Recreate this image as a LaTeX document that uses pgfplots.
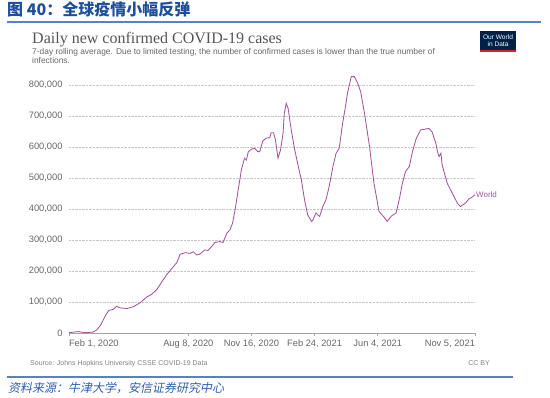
\documentclass[border=0pt]{standalone}
\usepackage{fontspec}
\setmainfont{Liberation Sans}
\newfontfamily\serifT{Liberation Serif}
\newfontfamily\cjk{Noto Sans CJK SC}
\newfontfamily\cjkit[FakeSlant=0.2]{Noto Sans CJK SC}
\usepackage{pgfplots}
\pgfplotsset{compat=1.18}
\definecolor{owid}{HTML}{A2559C}
\definecolor{txtgray}{HTML}{666666}
\definecolor{ttlgray}{HTML}{555555}
\definecolor{hdrblue}{HTML}{1F4E9A}
\definecolor{lineblue}{HTML}{5B7FC7}
\definecolor{footblue}{HTML}{2F5FB0}
\definecolor{navy}{HTML}{002147}
\definecolor{owidred}{HTML}{CE261E}
\begin{document}
\begin{tikzpicture}
\path[use as bounding box] (0,0) rectangle (550pt,-398pt);
% header
\node[anchor=base west, inner sep=0, text=hdrblue, font=\cjk\bfseries\fontsize{16}{16}\selectfont] at (7pt,-16pt) {图 40：全球疫情小幅反弹};
\draw[lineblue, line width=1.5pt] (7pt,-22pt) -- (541pt,-22pt);
\node[anchor=base west, inner sep=0, text=ttlgray, font=\serifT\fontsize{16}{16}\selectfont] at (32pt,-43.3pt) {Daily new confirmed COVID-19 cases};
\node[anchor=base west, inner sep=0, text=txtgray, font=\fontsize{8.4}{8.4}\selectfont] at (32pt,-54.3pt) {7-day rolling average. Due to limited testing, the number of confirmed cases is lower than the true number of};
\node[anchor=base west, inner sep=0, text=txtgray, font=\fontsize{8.4}{8.4}\selectfont] at (32pt,-64pt) {infections.};
% logo
\fill[navy] (480pt,-31pt) rectangle (516pt,-50pt);
\fill[owidred] (480pt,-50pt) rectangle (516pt,-52pt);
\node[text=white, align=center, inner sep=0, font=\fontsize{6.6}{7}\selectfont] at (498pt,-40.5pt) {Our World\\in Data};
\begin{axis}[
  at={(69pt,-333pt)}, anchor=south west, scale only axis,
  width=406pt, height=248pt,
  xmin=0, xmax=643, ymin=0, ymax=800000, clip=false,
  axis x line*=bottom, axis y line*=left,
  y axis line style={draw=none},
  x axis line style={draw=black!35, line width=0.6pt},
  ytick={0,100000,200000,300000,400000,500000,600000,700000,800000},
  scaled y ticks=false,
  /pgf/number format/.cd, fixed, 1000 sep={,}, assume math mode=true, /pgfplots/.cd,
  ymajorgrids, grid style={densely dotted, draw=black!22, line width=0.6pt},
  ytick style={draw=none},
  xtick style={draw=black!35, line width=0.6pt},
  tick align=outside, major tick length=3pt,
  xtick={0,189,289,389,489,643},
  xticklabels={{\makebox[0pt][l]{Feb 1, 2020}},{Aug 8, 2020},{Nov 16, 2020},{Feb 24, 2021},{Jun 4, 2021},{\makebox[0pt][r]{Nov 5, 2021}}},
  tick label style={font=\fontsize{9.3}{10}\selectfont, text=txtgray},
]
\addplot[owid, line width=0.85pt, mark=none] coordinates {
(0,1000)(8,3000)(15,4500)(22,2000)(30,1500)(38,3000)(44,10000)(50,25000)
(58,57000)(63,73000)(70,76000)(75,86000)(81,81000)(92,79000)(102,85000)
(113,98000)(123,116000)(131,125000)(139,140000)(147,165000)(155,189000)
(163,208000)(171,228000)(176,254000)(184,259000)(192,257000)(197,262000)
(202,252000)(207,254000)(215,268000)(220,266000)(226,279000)(231,292000)
(239,295000)(244,292000)(250,322000)(255,333000)(259,354000)(263,397000)
(268,462000)(273,526000)(278,564000)(281,558000)(284,585000)(289,593000)
(294,596000)(299,585000)(302,585000)(307,620000)(313,629000)(318,630000)
(320,646000)(324,646000)(327,623000)(331,564000)(335,590000)(339,644000)
(341,709000)(344,741000)(347,725000)(352,655000)(357,596000)(362,548000)
(368,494000)(373,430000)(378,381000)(384,360000)(386,363000)(391,387000)
(394,381000)(397,376000)(402,408000)(407,430000)(412,472000)(418,537000)
(423,580000)(428,596000)(433,672000)(438,732000)(441,773000)(447,827000)
(452,827000)(457,807000)(462,778000)(468,709000)(476,601000)(483,483000)
(491,392000)(498,376000)(504,360000)(511,378000)(518,387000)(523,430000)
(528,483000)(533,521000)(539,537000)(544,585000)(550,628000)(557,655000)
(565,658000)(570,660000)(575,649000)(581,612000)(583,590000)(586,569000)
(589,580000)(591,542000)(599,483000)(607,451000)(615,419000)(620,408000)
(628,419000)(633,432000)(638,438000)(643,446000)
};
\node[anchor=west, text=owid, inner sep=1pt, font=\fontsize{8}{8}\selectfont] at (axis cs:643,446000) {World};
\end{axis}
% source
\node[anchor=base west, inner sep=0, text=black!50, font=\fontsize{7}{7}\selectfont] at (30pt,-366pt) {Source: Johns Hopkins University CSSE COVID-19 Data};
\node[anchor=base east, inner sep=0, text=black!50, font=\fontsize{7}{7}\selectfont] at (490pt,-366pt) {CC BY};
\draw[lineblue, line width=1.5pt] (7pt,-377pt) -- (513pt,-377pt);
\node[anchor=base west, inner sep=0, text=footblue, font=\cjkit\fontsize{12}{12}\selectfont] at (8pt,-393pt) {资料来源：牛津大学，安信证券研究中心};
\end{tikzpicture}
\end{document}
